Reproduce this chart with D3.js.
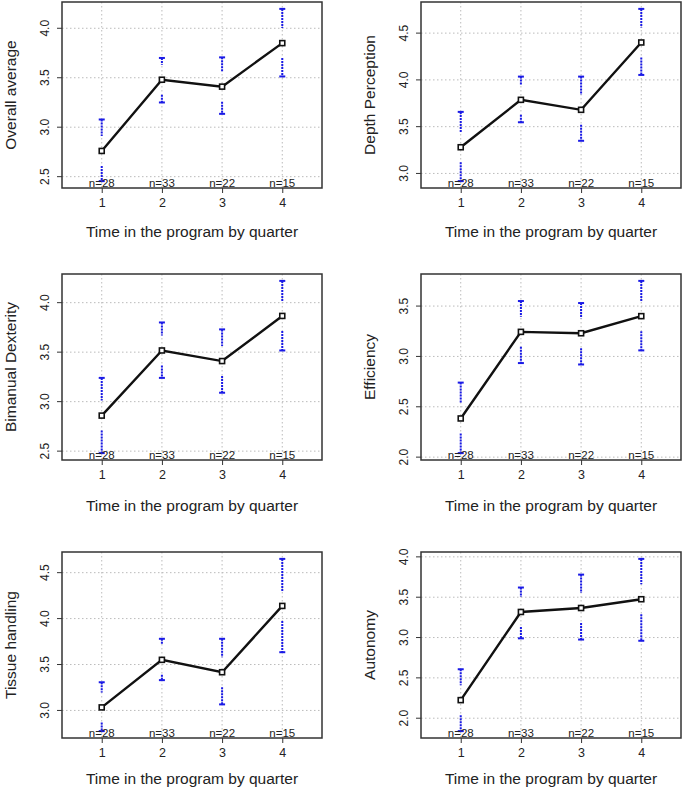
<!DOCTYPE html>
<html>
<head>
<meta charset="utf-8">
<script src="https://cdn.jsdelivr.net/npm/d3@7"></script>
<style>
  body { margin: 0; background: #fff; }
  text { font-family: "Liberation Sans", Arial, sans-serif; fill: #222; }
</style>
</head>
<body>
<script>
// data
var quarters = [1, 2, 3, 4];
var counts = [28, 33, 22, 15];
var xLabel = "Time in the program by quarter";

var overallMean  = [2.76, 3.48, 3.41, 3.85];
var overallLower = [2.455, 3.25, 3.135, 3.513];
var overallUpper = [3.078, 3.70, 3.706, 4.196];

var depthMean  = [3.28, 3.787, 3.68, 4.40];
var depthLower = [2.918, 3.547, 3.349, 4.053];
var depthUpper = [3.658, 4.035, 4.035, 4.759];

var bimanualMean  = [2.859, 3.517, 3.41, 3.866];
var bimanualLower = [2.48, 3.24, 3.09, 3.517];
var bimanualUpper = [3.24, 3.80, 3.73, 4.22];

var efficiencyMean  = [2.384, 3.244, 3.23, 3.40];
var efficiencyLower = [2.04, 2.934, 2.92, 3.06];
var efficiencyUpper = [2.74, 3.55, 3.53, 3.75];

var tissueMean  = [3.033, 3.551, 3.416, 4.138];
var tissueLower = [2.775, 3.33, 3.066, 3.634];
var tissueUpper = [3.307, 3.78, 3.78, 4.65];

var autonomyMean  = [2.224, 3.317, 3.366, 3.475];
var autonomyLower = [1.84, 2.99, 2.975, 2.96];
var autonomyUpper = [2.607, 3.62, 3.78, 3.975];

var panels = [
  {title: "Overall average",    mean: overallMean,    lower: overallLower,    upper: overallUpper,    ticks: [2.5, 3.0, 3.5, 4.0]},
  {title: "Depth Perception",   mean: depthMean,      lower: depthLower,      upper: depthUpper,      ticks: [3.0, 3.5, 4.0, 4.5]},
  {title: "Bimanual Dexterity", mean: bimanualMean,   lower: bimanualLower,   upper: bimanualUpper,   ticks: [2.5, 3.0, 3.5, 4.0]},
  {title: "Efficiency",         mean: efficiencyMean, lower: efficiencyLower, upper: efficiencyUpper, ticks: [2.0, 2.5, 3.0, 3.5]},
  {title: "Tissue handling",    mean: tissueMean,     lower: tissueLower,     upper: tissueUpper,     ticks: [3.0, 3.5, 4.0, 4.5]},
  {title: "Autonomy",           mean: autonomyMean,   lower: autonomyLower,   upper: autonomyUpper,   ticks: [2.0, 2.5, 3.0, 3.5, 4.0]}
];

var W = 685, H = 790;
var boxW = 260, boxH = 186;
var colX = [62, 421];
var rowY = [2, 274, 552];
var titleOff = [49, 51, 46];
var gap = 15;

var svg = d3.select("body").append("svg")
    .attr("width", W)
    .attr("height", H);

panels.forEach(function(p, i) {
    var row = Math.floor(i / 2);
    var bx = colX[i % 2], by = rowY[row];
    var g = svg.append("g").attr("transform", "translate(" + bx + "," + by + ")");

    // R style: range of the CIs, extended by 4%
    var lo = d3.min(p.lower), hi = d3.max(p.upper), ext = (hi - lo) * 0.04;
    var y = d3.scaleLinear().domain([lo - ext, hi + ext]).range([boxH, 0]);
    var x = d3.scaleLinear().domain([0.34, 4.66]).range([0, boxW]);

    // grid
    g.selectAll(".gy").data(p.ticks).enter().append("line")
        .attr("x1", 0).attr("x2", boxW)
        .attr("y1", function(d) { return y(d); })
        .attr("y2", function(d) { return y(d); })
        .attr("stroke", "#bbb").attr("stroke-dasharray", "1.5,2.5");
    g.selectAll(".gx").data(quarters).enter().append("line")
        .attr("x1", function(d) { return x(d); })
        .attr("x2", function(d) { return x(d); })
        .attr("y1", 0).attr("y2", boxH)
        .attr("stroke", "#bbb").attr("stroke-dasharray", "1.5,2.5");

    // axes
    var xAxis = g.append("g").attr("transform", "translate(0," + boxH + ")")
        .call(d3.axisBottom(x).tickValues(quarters).tickFormat(d3.format("d")).tickSize(5).tickPadding(5));
    xAxis.select(".domain").remove();
    xAxis.selectAll("text").style("font-size", "12.5px").attr("fill", "#222");
    xAxis.selectAll("line").attr("stroke", "#333");

    var yAxis = g.append("g")
        .call(d3.axisLeft(y).tickValues(p.ticks).tickFormat(d3.format(".1f")).tickSize(5));
    yAxis.select(".domain").remove();
    yAxis.selectAll("line").attr("stroke", "#333");
    yAxis.selectAll("text")
        .style("font-size", "12px").attr("fill", "#222")
        .attr("x", 0).attr("dy", null)
        .attr("text-anchor", "middle")
        .attr("transform", function(d) { return "translate(-13," + y(d) + ") rotate(-90)"; })
        .attr("y", 0);
    yAxis.selectAll(".tick").attr("transform", null);
    yAxis.selectAll(".tick line")
        .attr("transform", function(d) { return "translate(0," + y(d) + ")"; });

    // error bars, with a gap around the mean
    var blue = "#1a1ae6";
    p.mean.forEach(function(m, k) {
        var cx = x(quarters[k]), cy = y(m);
        var yt = y(p.upper[k]), yb = y(p.lower[k]);
        g.append("line").attr("x1", cx).attr("x2", cx)
            .attr("y1", yt).attr("y2", Math.max(yt, cy - gap))
            .attr("stroke", blue).attr("stroke-width", 2).attr("stroke-dasharray", "2,1");
        g.append("line").attr("x1", cx).attr("x2", cx)
            .attr("y1", Math.min(yb, cy + gap)).attr("y2", Math.min(yb, boxH))
            .attr("stroke", blue).attr("stroke-width", 2).attr("stroke-dasharray", "2,1");
        g.append("line").attr("x1", cx - 3).attr("x2", cx + 3)
            .attr("y1", yt).attr("y2", yt)
            .attr("stroke", blue).attr("stroke-width", 2);
        if (yb <= boxH) {
            g.append("line").attr("x1", cx - 3).attr("x2", cx + 3)
                .attr("y1", yb).attr("y2", yb)
                .attr("stroke", blue).attr("stroke-width", 2);
        }
    });

    // mean line and points
    var line = d3.line()
        .x(function(d, k) { return x(quarters[k]); })
        .y(function(d) { return y(d); });
    g.append("path").datum(p.mean)
        .attr("d", line)
        .attr("fill", "none").attr("stroke", "#111").attr("stroke-width", 2.4);
    g.selectAll(".pt").data(p.mean).enter().append("rect")
        .attr("x", function(d, k) { return x(quarters[k]) - 2.5; })
        .attr("y", function(d) { return y(d) - 2.5; })
        .attr("width", 5).attr("height", 5)
        .attr("fill", "#fff").attr("stroke", "#111").attr("stroke-width", 1.6);

    // n labels
    g.selectAll(".n").data(counts).enter().append("text")
        .attr("x", function(d, k) { return x(quarters[k]); })
        .attr("y", boxH - 1.5)
        .attr("text-anchor", "middle")
        .style("font-size", "11.5px")
        .attr("fill", "#333")
        .text(function(d) { return "n=" + d; });

    // box
    g.append("rect").attr("width", boxW).attr("height", boxH)
        .attr("fill", "none").attr("stroke", "#333").attr("stroke-width", 1.5);

    // titles
    g.append("text")
        .attr("x", boxW / 2).attr("y", boxH + titleOff[row])
        .attr("text-anchor", "middle")
        .style("font-size", "15.5px")
        .text(xLabel);
    g.append("text")
        .attr("transform", "translate(-46," + (boxH / 2) + ") rotate(-90)")
        .attr("text-anchor", "middle")
        .style("font-size", "15.5px")
        .text(p.title);
});
</script>
</body>
</html>
